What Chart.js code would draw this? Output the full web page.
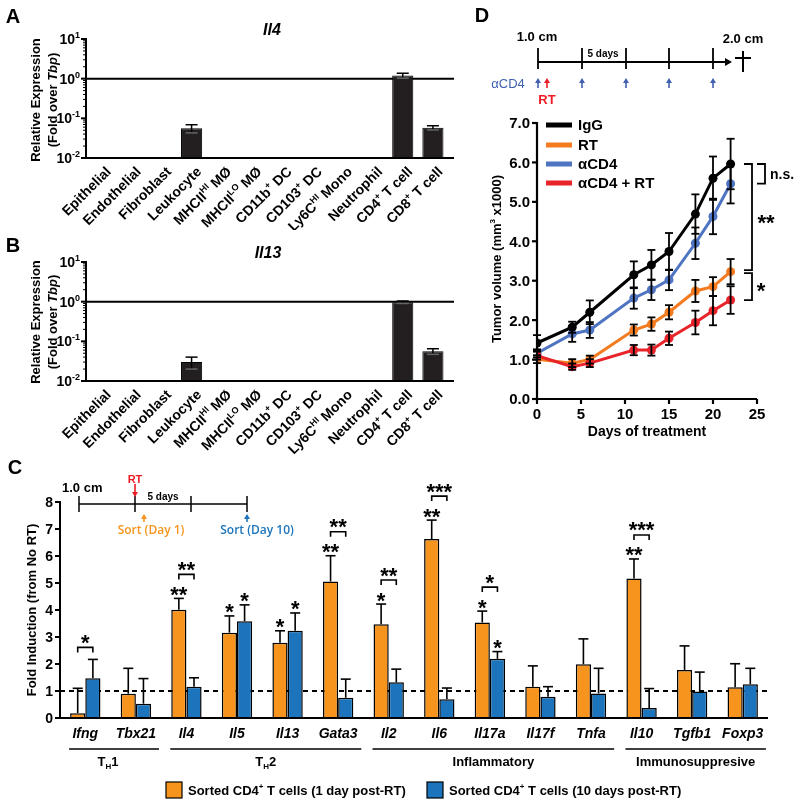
<!DOCTYPE html>
<html><head><meta charset="utf-8">
<script src="https://cdn.jsdelivr.net/npm/chart.js@4/dist/chart.umd.min.js"></script>
<style>
html,body{margin:0;padding:0;background:#fff;}
#wrap{position:relative;width:800px;height:807px;overflow:hidden;background:#fff;}
canvas{position:absolute;}
</style></head><body>
<div id="wrap">
<canvas id="cA" style="left:0px;top:0px" width="470" height="230"></canvas>
<canvas id="cB" style="left:0px;top:230px" width="470" height="225"></canvas>
<canvas id="cC" style="left:0px;top:455px" width="800" height="352"></canvas>
<canvas id="cD" style="left:400px;top:0px" width="400" height="445"></canvas>
<canvas id="ov" style="left:0px;top:0px;pointer-events:none" width="800" height="807"></canvas>
</div>
<script>
// ---------------- DATA ----------------
const cellTypes = ['Epithelial','Endothelial','Fibroblast','Leukocyte','MHCII^{HI} MØ','MHCII^{LO} MØ','CD11b^{+} DC','CD103^{+} DC','Ly6C^{HI} Mono','Neutrophil','CD4^{+} T cell','CD8^{+} T cell'];
const il4Expr  = [null,null,null,0.056,null,null,null,null,null,null,1.20,0.058];
const il4Sem   = [null,null,null,0.013,null,null,null,null,null,null,0.17,0.007];
const il13Expr = [null,null,null,0.030,null,null,null,null,null,null,0.97,0.056];
const il13Sem  = [null,null,null,0.010,null,null,null,null,null,null,0.07,0.009];
const logTicks = [0.01,0.1,1,10];

const genes = ['Ifng','Tbx21','Il4','Il5','Il13','Gata3','Il2','Il6','Il17a','Il17f','Tnfa','Il10','Tgfb1','Foxp3'];
const day1Fold  = [0.18,0.90,4.01,3.16,2.79,5.06,3.47,6.63,3.54,1.16,1.99,5.17,1.78,1.14];
const day1Err   = [0.92,0.94,0.42,0.62,0.44,0.95,0.75,0.70,0.42,0.77,0.94,0.72,0.89,0.87];
const day10Fold = [1.47,0.53,1.16,3.58,3.23,0.75,1.32,0.69,2.19,0.79,0.91,0.37,0.98,1.25];
const day10Err  = [0.70,0.93,0.33,0.61,0.66,0.69,0.49,0.42,0.27,0.37,0.93,0.72,0.72,0.59];
const sigDay1   = ['','','**','*','*','**','*','**','*','','','**','',''];
const sigDay10  = ['','','','*','*','','','','*','','','','',''];
const sigBetween= ['*','','**','','','**','**','***','*','','','***','',''];
const geneGroups = [['T_{H}1',0,1],['T_{H}2',2,5],['Inflammatory',6,10],['Immunosuppresive',11,13]];
const foldTicks = [0,1,2,3,4,5,6,7,8];
const seriesC = ['Sorted CD4^{+} T cells (1 day post-RT)','Sorted CD4^{+} T cells (10 days post-RT)'];

const days    = [0,4,6,11,13,15,18,20,22];
const igg     = [1.42,1.82,2.20,3.15,3.40,3.74,4.69,5.60,5.96];
const iggSem  = [0.20,0.14,0.30,0.34,0.38,0.47,0.50,0.55,0.64];
const rt      = [1.01,0.91,1.00,1.75,1.90,2.20,2.74,2.85,3.23];
const rtSem   = [0.10,0.10,0.10,0.14,0.17,0.18,0.28,0.24,0.32];
const acd4    = [1.16,1.65,1.75,2.56,2.77,3.02,3.95,4.63,5.46];
const acd4Sem = [0.10,0.20,0.20,0.27,0.26,0.26,0.40,0.45,0.50];
const combo   = [1.10,0.82,0.91,1.24,1.24,1.54,1.94,2.24,2.51];
const comboSem= [0.10,0.08,0.10,0.13,0.14,0.17,0.30,0.37,0.35];
const seriesD = ['IgG','RT','αCD4','αCD4 + RT'];
const volTicks = [0,1,2,3,4,5,6,7];
const dayTicks = [0,5,10,15,20,25];

// ---------------- HELPERS ----------------
const FONT = '"Liberation Sans", Arial, Helvetica, sans-serif';
const ORANGE='#f7941d', BLUE='#1c75bc', RED='#ed1c24';
const D_COLORS=['#000000','#f47b20','#4f74c2','#e8232a'];

function parseRich(str){
  const segs=[]; let italic=false, buf='', i=0;
  const push=(t,ex)=>{ if(t) segs.push(Object.assign({t:t,i:italic},ex||{})); };
  while(i<str.length){
    const c=str[i];
    if(c==='~'){ push(buf); buf=''; italic=!italic; i++; }
    else if((c==='^'||c==='_')&&str[i+1]==='{'){ push(buf); buf=''; const j=str.indexOf('}',i); push(str.slice(i+2,j), c==='^'?{sup:true}:{sub:true}); i=j+1; }
    else { buf+=c; i++; }
  }
  push(buf); return segs;
}
function plain(s){ return s.replace(/~/g,'').replace(/[\^_]\{([^}]*)\}/g,'$1'); }
function rich(ctx,str,x,y,o){
  o=o||{}; const size=o.size||13, weight=o.weight||'bold', fam=o.family||FONT;
  const segs=parseRich(str);
  const f=s=>(s.i||o.italic?'italic ':'')+weight+' '+((s.sup||s.sub)?Math.round(size*0.62):size)+'px '+fam;
  let total=0; segs.forEach(s=>{ctx.font=f(s); total+=ctx.measureText(s.t).width;});
  ctx.save(); ctx.translate(x,y); if(o.rot) ctx.rotate(o.rot);
  let cx=o.align==='right'?-total:(o.align==='center'?-total/2:0);
  const base=o.middle?size*0.36:0;
  ctx.fillStyle=o.color||'#000'; ctx.textBaseline='alphabetic'; ctx.textAlign='left';
  segs.forEach(s=>{ ctx.font=f(s); const dy=s.sup?-size*0.42:(s.sub?size*0.22:0); ctx.fillText(s.t,cx,base+dy); cx+=ctx.measureText(s.t).width; });
  ctx.restore(); return total;
}
function seg(ctx,x1,y1,x2,y2){ ctx.beginPath(); ctx.moveTo(x1,y1); ctx.lineTo(x2,y2); ctx.stroke(); }
function star(ctx,s,x,cy){ ctx.save(); ctx.font='bold 22px '+FONT; ctx.textAlign='center'; ctx.textBaseline='alphabetic'; ctx.fillStyle='#000'; ctx.fillText(s,x,cy+12.5); ctx.restore(); }
function arrow(ctx,x,yTail,yHead,color){
  const d=Math.sign(yHead-yTail);
  ctx.save(); ctx.strokeStyle=color; ctx.fillStyle=color; ctx.lineWidth=1.6;
  seg(ctx,x,yTail,x,yHead-d*3);
  ctx.beginPath(); ctx.moveTo(x,yHead); ctx.lineTo(x-3,yHead-d*5); ctx.lineTo(x+3,yHead-d*5); ctx.closePath(); ctx.fill();
  ctx.restore();
}
const baseOpts = ()=>({responsive:false, animation:false, devicePixelRatio:1, events:[],
  plugins:{legend:{display:false}, tooltip:{enabled:false}, title:{display:false}}});
const hidden = {grid:{display:false}, border:{display:false}, ticks:{display:false}};

// ---------------- PANELS A & B ----------------
function logPlugin(sem){
  return {
    id:'logp',
    beforeDatasetsDraw(chart){
      const {ctx,chartArea:a,scales:{y}}=chart; const py=y.getPixelForValue(1);
      ctx.save(); ctx.strokeStyle='#000'; ctx.lineWidth=2; seg(ctx,a.left,py,a.right+6,py); ctx.restore();
    },
    afterDatasetsDraw(chart){
      const {ctx,chartArea:a,scales:{x,y}}=chart; const vals=chart.data.datasets[0].data;
      ctx.save(); ctx.strokeStyle='#000'; ctx.lineWidth=1.5;
      vals.forEach((v,i)=>{ if(v==null) return; const px=x.getPixelForValue(i);
        const hi=y.getPixelForValue(v+sem[i]), lo=y.getPixelForValue(v-sem[i]);
        seg(ctx,px,hi,px,lo); seg(ctx,px-6,hi,px+6,hi);
        ctx.strokeStyle='#666'; seg(ctx,px-6,lo,px+6,lo); ctx.strokeStyle='#000'; });
      ctx.lineWidth=2;
      ctx.beginPath(); ctx.moveTo(a.left,a.top-1); ctx.lineTo(a.left,a.bottom); ctx.lineTo(a.right+6,a.bottom); ctx.stroke();
      logTicks.forEach((t,k)=>{ const py=y.getPixelForValue(t); ctx.lineWidth=2; seg(ctx,a.left-5,py,a.left,py);
        rich(ctx,'10^{'+Math.round(Math.log10(t))+'}',a.left-6,py,{size:14,align:'right',middle:true});
        if(k<logTicks.length-1){ ctx.lineWidth=1; for(let m=2;m<10;m++){ const pm=y.getPixelForValue(t*m); seg(ctx,a.left-3,pm,a.left,pm);} }
      });
      cellTypes.forEach((lab,i)=>{ const px=x.getPixelForValue(i);
        rich(ctx,lab,px+7,a.bottom+11,{size:14,align:'right',middle:true,rot:-Math.PI/4}); });
      ctx.restore();
    }
  };
}
function makeLog(id,vals,sem,top){
  return new Chart(document.getElementById(id),{
    type:'bar',
    data:{labels:cellTypes.map(plain),datasets:[{data:vals,backgroundColor:'#231f20',borderColor:'#000',borderWidth:1,categoryPercentage:1,barPercentage:0.7}]},
    options:Object.assign(baseOpts(),{
      layout:{padding:{top:top,right:22,left:0,bottom:0}},
      scales:{
        x:Object.assign({afterFit:s=>{s.height=document.getElementById(id).height-top-119;}},hidden),
        y:Object.assign({type:'logarithmic',min:0.01,max:10,afterFit:s=>{s.width=86;}},hidden)
      }}),
    plugins:[logPlugin(sem)]
  });
}
makeLog('cA',il4Expr,il4Sem,39);
makeLog('cB',il13Expr,il13Sem,32);

// ---------------- PANEL C ----------------
const cPlugin={
  id:'cp',
  beforeDatasetsDraw(chart){
    const {ctx,chartArea:a,scales:{y}}=chart; const py=y.getPixelForValue(1);
    ctx.save(); ctx.strokeStyle='#000'; ctx.lineWidth=2; ctx.setLineDash([5,4]); seg(ctx,a.left,py,a.right,py); ctx.restore();
  },
  afterDatasetsDraw(chart){
    const {ctx,chartArea:a,scales:{x,y}}=chart;
    const metas=[chart.getDatasetMeta(0),chart.getDatasetMeta(1)];
    const vals=[day1Fold,day10Fold], errs=[day1Err,day10Err], sigs=[sigDay1,sigDay10];
    ctx.save(); ctx.strokeStyle='#000'; ctx.lineWidth=1.6;
    const topPx=(k,i)=>y.getPixelForValue(vals[k][i]+errs[k][i]);
    metas.forEach((m,k)=>m.data.forEach((bar,i)=>{ const t=topPx(k,i);
      seg(ctx,bar.x,y.getPixelForValue(vals[k][i]),bar.x,t); seg(ctx,bar.x-5,t,bar.x+5,t);
      if(sigs[k][i]) star(ctx,sigs[k][i],bar.x,t-9); }));
    sigBetween.forEach((s,i)=>{ if(!s) return;
      const x0=metas[0].data[i].x, x1=metas[1].data[i].x;
      const by=Math.min(topPx(0,i)-(sigs[0][i]?24:12), topPx(1,i)-(sigs[1][i]?24:12));
      ctx.beginPath(); ctx.moveTo(x0,by+5); ctx.lineTo(x0,by); ctx.lineTo(x1,by); ctx.lineTo(x1,by+5); ctx.stroke();
      star(ctx,s,(x0+x1)/2,by-10); });
    ctx.lineWidth=2;
    ctx.beginPath(); ctx.moveTo(a.left,a.top-1); ctx.lineTo(a.left,a.bottom); ctx.lineTo(a.right,a.bottom); ctx.stroke();
    foldTicks.forEach(t=>{ const py=y.getPixelForValue(t); seg(ctx,a.left-5,py,a.left,py);
      rich(ctx,String(t),a.left-7,py,{size:14,align:'right',middle:true}); });
    genes.forEach((g,i)=>{ rich(ctx,g,x.getPixelForValue(i),a.bottom+15,{size:14,align:'center',middle:true,italic:true}); });
    ctx.lineWidth=1.6;
    geneGroups.forEach(([lab,s,e],gi)=>{
      const b0=metas[0].data[s], b1=metas[1].data[e];
      const x0=b0.x-b0.width/2-1, x1=b1.x+b1.width/2+8;
      seg(ctx,x0,a.bottom+31,x1,a.bottom+31);
      rich(ctx,lab,(x0+x1)/2-(gi===0?6:0),a.bottom+43,{size:13,align:'center',middle:true});
    });
    ctx.restore();
  }
};
new Chart(document.getElementById('cC'),{
  type:'bar',
  data:{labels:genes,datasets:[
    {label:plain(seriesC[0]),data:day1Fold,backgroundColor:ORANGE,borderColor:'#000',borderWidth:1.5,categoryPercentage:0.6,barPercentage:1},
    {label:plain(seriesC[1]),data:day10Fold,backgroundColor:BLUE,borderColor:'#000',borderWidth:1.5,categoryPercentage:0.6,barPercentage:1}]},
  options:Object.assign(baseOpts(),{
    layout:{padding:{top:47,right:32,left:0,bottom:0}},
    scales:{
      x:Object.assign({afterFit:s=>{s.height=89;}},hidden),
      y:Object.assign({min:0,max:8,afterFit:s=>{s.width=60;}},hidden)
    }}),
  plugins:[cPlugin]
});

// ---------------- PANEL D ----------------
const dPlugin={
  id:'dp',
  afterDatasetsDraw(chart){
    const {ctx,chartArea:a,scales:{x,y}}=chart;
    const series=[igg,rt,acd4,combo], sems=[iggSem,rtSem,acd4Sem,comboSem];
    ctx.save(); ctx.strokeStyle='#000'; ctx.lineWidth=1.8;
    series.forEach((s,k)=>s.forEach((v,i)=>{ const px=x.getPixelForValue(days[i]);
      const hi=y.getPixelForValue(v+sems[k][i]), lo=y.getPixelForValue(v-sems[k][i]);
      seg(ctx,px,hi,px,lo); seg(ctx,px-4,hi,px+4,hi); seg(ctx,px-4,lo,px+4,lo); }));
    ctx.lineWidth=2.2;
    ctx.beginPath(); ctx.moveTo(a.left,a.top-1); ctx.lineTo(a.left,a.bottom); ctx.lineTo(a.right,a.bottom); ctx.stroke();
    volTicks.forEach(t=>{ const py=y.getPixelForValue(t); seg(ctx,a.left-5,py,a.left,py);
      rich(ctx,t.toFixed(1),a.left-7,py,{size:15,align:'right',middle:true}); });
    dayTicks.forEach(t=>{ const px=x.getPixelForValue(t); seg(ctx,px,a.bottom,px,a.bottom+5);
      rich(ctx,String(t),px,a.bottom+15,{size:15,align:'center',middle:true}); });
    const L=days.length-1;
    const yI=y.getPixelForValue(igg[L]), yA=y.getPixelForValue(acd4[L]), yR=y.getPixelForValue(rt[L]), yC=y.getPixelForValue(combo[L]);
    ctx.lineWidth=1.8;
    const br=(xv,xs,y0,y1)=>{ ctx.beginPath(); ctx.moveTo(xs,y0); ctx.lineTo(xv,y0); ctx.lineTo(xv,y1); ctx.lineTo(xs,y1); ctx.stroke(); };
    br(a.right+8,a.right,yI,yA);
    rich(ctx,'n.s.',a.right+13,(yI+yA)/2,{size:14,middle:true});
    br(a.right-5,a.right-13,yI,yR-1.5);
    star(ctx,'**',a.right+9,(yI+yR)/2);
    br(a.right-5,a.right-13,yR+1.5,yC);
    star(ctx,'*',a.right+4,(yR+yC)/2);
    ctx.restore();
  }
};
const dSeries=[igg,rt,acd4,combo];
new Chart(document.getElementById('cD'),{
  type:'line',
  data:{datasets:dSeries.map((s,k)=>({label:seriesD[k],data:days.map((d,i)=>({x:d,y:s[i]})),
    borderColor:D_COLORS[k],backgroundColor:D_COLORS[k],pointBackgroundColor:D_COLORS[k],borderWidth:3,
    pointRadius:4.5,pointBorderWidth:0,tension:0,order:[1,3,2,0][k]}))},
  options:Object.assign(baseOpts(),{
    layout:{padding:{top:123,right:43,left:0,bottom:0}},
    scales:{
      x:Object.assign({type:'linear',min:0,max:25,afterFit:s=>{s.height=46;}},hidden),
      y:Object.assign({min:0,max:7,afterFit:s=>{s.width=137;}},hidden)
    }}),
  plugins:[dPlugin]
});

// ---------------- OVERLAY ----------------
(function(){
  const ctx=document.getElementById('ov').getContext('2d');
  ctx.strokeStyle='#000'; ctx.fillStyle='#000';
  [['A',13,16],['B',13,245],['C',15,467],['D',482,15]].forEach(([l,x,y])=>rich(ctx,l,x,y,{size:20,align:'center',middle:true}));
  rich(ctx,'~Il4~',272,29,{size:16,align:'center',middle:true});
  rich(ctx,'~Il13~',268,252,{size:16,align:'center',middle:true});
  [[100],[322]].forEach(([cy])=>{
    rich(ctx,'Relative Expression',35,cy,{size:13,align:'center',middle:true,rot:-Math.PI/2});
    rich(ctx,'(Fold over ~Tbp~)',52,cy,{size:13,align:'center',middle:true,rot:-Math.PI/2});
  });
  rich(ctx,'Fold Induction (from No RT)',31,610,{size:13,align:'center',middle:true,rot:-Math.PI/2});
  ctx.lineWidth=1.5;
  rich(ctx,'1.0 cm',62,487,{size:13,middle:true});
  seg(ctx,79,504,247,504);
  [79,135,191,247].forEach(x=>seg(ctx,x,496,x,512));
  rich(ctx,'RT',135,479,{size:11,align:'center',middle:true,color:RED});
  arrow(ctx,135,484,497,RED);
  rich(ctx,'5 days',163,496,{size:10,align:'center',middle:true});
  arrow(ctx,144,522,514,ORANGE);
  rich(ctx,'Sort (Day 1)',151,530,{size:12,align:'center',middle:true,color:ORANGE,family:'"Open Sans", sans-serif',weight:'600'});
  arrow(ctx,247,522,514,BLUE);
  rich(ctx,'Sort (Day 10)',257,530,{size:12,align:'center',middle:true,color:BLUE,family:'"Open Sans", sans-serif',weight:'600'});
  [[166,ORANGE,seriesC[0]],[427,BLUE,seriesC[1]]].forEach(([x,c,t])=>{
    ctx.fillStyle=c; ctx.fillRect(x,782,16,16); ctx.lineWidth=1.2; ctx.strokeStyle='#000'; ctx.strokeRect(x,782,16,16);
    rich(ctx,t,x+22,790,{size:13,middle:true});
  });
  ctx.strokeStyle='#000'; ctx.fillStyle='#000'; ctx.lineWidth=1.8;
  rich(ctx,'1.0 cm',537,36,{size:13,align:'center',middle:true});
  rich(ctx,'2.0 cm',743,38,{size:13,align:'center',middle:true});
  seg(ctx,538,62,727,62);
  ctx.beginPath(); ctx.moveTo(732,62); ctx.lineTo(725,58); ctx.lineTo(725,66); ctx.closePath(); ctx.fill();
  [538,582,626,669,713].forEach(x=>seg(ctx,x,48,x,69));
  rich(ctx,'5 days',603,53,{size:10,align:'center',middle:true});
  ctx.lineWidth=2; seg(ctx,743,51,743,72); seg(ctx,735,58,751,58);
  const DB='#3f5fb0';
  [538,582,626,669,713].forEach(x=>arrow(ctx,x,88,78,DB));
  arrow(ctx,547,88,78,RED);
  rich(ctx,'αCD4',508,83,{size:13,weight:'normal',align:'center',middle:true,color:DB});
  rich(ctx,'RT',547,99,{size:13,align:'center',middle:true,color:RED});
  rich(ctx,'Tumor volume (mm^{3} x1000)',496,259,{size:13,align:'center',middle:true,rot:-Math.PI/2});
  rich(ctx,'Days of treatment',647,431,{size:14,align:'center',middle:true});
  [125,145,164,183].forEach((yy,k)=>{ ctx.strokeStyle=D_COLORS[k]; ctx.lineWidth=5; seg(ctx,546,yy,572,yy);
    rich(ctx,seriesD[k],578,yy,{size:15,middle:true}); });
})();
</script>
</body></html>
